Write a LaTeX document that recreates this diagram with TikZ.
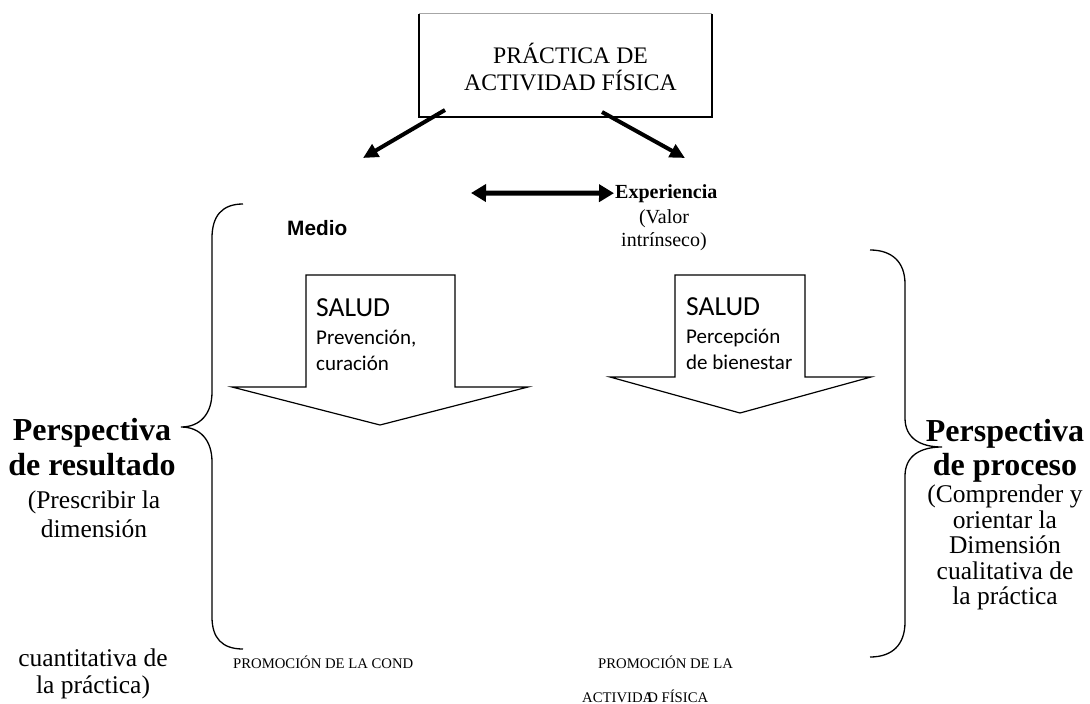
\documentclass[tikz,border=0pt]{standalone}
\usepackage{fontspec}
\setmainfont{Liberation Serif}
\newfontfamily\calibrifont{Carlito}
\newfontfamily\arialfont{Liberation Sans}
\usetikzlibrary{arrows.meta,positioning}
\tikzset{
  heavy/.style={
    line width=4pt,
    -{Triangle[length=15pt,width=14pt]}
  },
  bigarrow/.style={
    draw,
    line width=1.2pt,
    line join=miter
  },
  brace/.style={
    line width=1.3pt
  },
  txt/.style={
    inner sep=0pt,
    anchor=base,
    font=\fontsize{25.5}{28}\selectfont
  },
  head/.style={
    inner sep=0pt,
    anchor=base,
    font=\fontsize{32}{35}\selectfont\bfseries
  },
  salud/.style={
    inner sep=0pt,
    anchor=base west,
    font=\calibrifont\fontsize{27.5}{30}\selectfont
  },
  saludsub/.style={
    inner sep=0pt,
    anchor=base west,
    font=\calibrifont\fontsize{21}{25}\selectfont
  },
  promo/.style={
    inner sep=0pt,
    anchor=base west,
    font=\fontsize{14.7}{17}\selectfont
  },
}
\begin{document}
\begin{tikzpicture}[x=1pt,y=-1pt]
\useasboundingbox (0,0) rectangle (1090,704);
% top box
\node[minimum width=293pt,minimum height=103pt] (box) at (565.5,65.5) {};
\node[inner sep=0pt,anchor=base,font=\fontsize{23.7}{27.5}\selectfont] (box1) at (570.5,63) {PRÁCTICA DE};
\node[inner sep=0pt,anchor=base,font=\fontsize{23.7}{27.5}\selectfont] (box2) at (570.5,90.5) {ACTIVIDAD FÍSICA};
\draw[gray!70,line width=0.8pt] (box.north west) -- (box.north east);
\draw[line width=1.5pt] (box.north west) -- (box.south west) -- (box.south east) -- (box.north east);
\coordinate (lstart) at (445,110);
\coordinate (lend) at (363,158);
\coordinate (rstart) at (602,112);
\coordinate (rend) at (685,158);
\draw[heavy] (lstart) -- (lend);
\draw[heavy] (rstart) -- (rend);
% experiencia
\node[inner sep=1pt,anchor=base west,font=\fontsize{20}{22}\selectfont\bfseries] (exp) at (614,198) {Experiencia};
\node[inner sep=0pt,anchor=base,font=\fontsize{20}{23}\selectfont] (valor1) at (664,223) {(Valor};
\node[inner sep=0pt,anchor=base,font=\fontsize{20}{23}\selectfont] (valor2) at (664,246) {intrínseco)};
\coordinate (dblL) at (471,193);
\draw[line width=5pt,{Triangle[length=15pt,width=17pt]}-{Triangle[length=15pt,width=17pt]}] (dblL) -- (exp.west);
\node[inner sep=0pt,anchor=base west,font=\arialfont\bfseries\fontsize{20.8}{24}\selectfont] (medio) at (287,235) {Medio};
% big arrows
\draw[bigarrow] (306,275) -- (455,275) -- (455,387) -- (528,387) -- (380,425)
  -- (232,387) -- (306,387) -- cycle;
\draw[bigarrow] (675,275) -- (805,275) -- (805,377) -- (871,377) -- (740,413)
  -- (610,377) -- (675,377) -- cycle;
\node[salud] (saludL) at (316,316) {SALUD};
\node[saludsub] (prev) at (316,344) {Prevención,};
\node[saludsub] (cura) at (316,370) {curación};
\node[salud] (saludR) at (686,315) {SALUD};
\node[saludsub] (perc) at (686,343) {Percepción};
\node[saludsub] (bien) at (686,369) {de bienestar};
% braces
\draw[brace] (243,204) .. controls (222,204) and (212,216) .. (212,238) -- (212,392)
  .. controls (212,414) and (200,427) .. (181,427)
  .. controls (200,427) and (212,440) .. (212,462) -- (212,617)
  .. controls (212,638) and (222,649) .. (243,649);
\draw[brace] (870,250) .. controls (892,250) and (905,262) .. (905,284) -- (905,418)
  .. controls (905,438) and (920,447) .. (942,447)
  .. controls (920,447) and (905,456) .. (905,476) -- (905,622)
  .. controls (905,645) and (892,657) .. (870,657);
% left side
\node[head] (pres1) at (92,440) {Perspectiva};
\node[head] (pres2) at (92,475) {de resultado};
\node[txt] (presc) at (94,508) {(Prescribir la};
\node[txt] (dim) at (94,537) {dimensión};
\node[txt] (cuant) at (93,666) {cuantitativa de};
\node[txt] (prac) at (93,693) {la práctica)};
% right side
\node[head] (pro1) at (1005,441) {Perspectiva};
\node[head] (pro2) at (1005,475) {de proceso};
\node[txt] (comp) at (1005,502) {(Comprender y};
\node[txt] (ori) at (1005,528) {orientar la};
\node[txt] (dimR) at (1005,553) {Dimensión};
\node[txt] (cual) at (1005,579) {cualitativa de};
\node[txt] (pracR) at (1005,604) {la práctica};
% bottom
\node[promo] (promoL) at (233,668) {PROMOCIÓN DE LA COND};
\node[promo] (promoR) at (598,668) {PROMOCIÓN DE LA};
\node[promo] (act) at (582,702) {ACTIVIDA\kern-0.4em D\ FÍSICA};
\end{tikzpicture}
\end{document}
